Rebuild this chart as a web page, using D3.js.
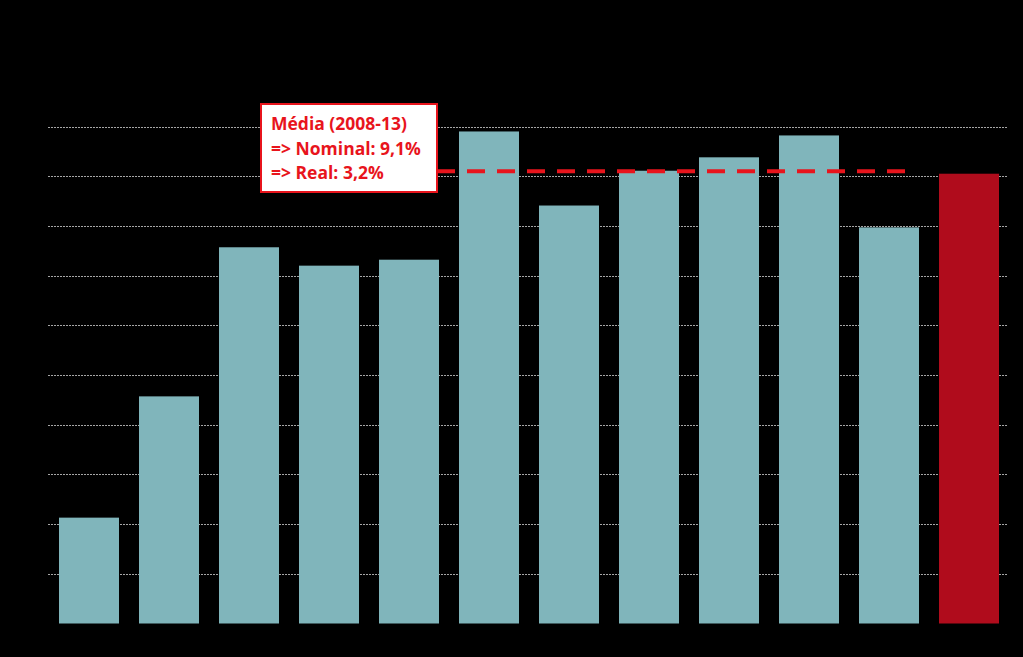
<!DOCTYPE html>
<html><head><meta charset="utf-8">
<script src="https://cdn.jsdelivr.net/npm/d3@7"></script>
<style>html,body{margin:0;padding:0;background:#000;}svg{display:block;}</style>
</head><body>
<script>
const categories = ["2003","2004","2005","2006","2007","2008","2009","2010","2011","2012","2013","2014"];
const values = [2.13, 4.57, 7.57, 7.20, 7.32, 9.90, 8.41, 9.11, 9.38, 9.82, 7.97, 9.05];
const highlight = ["2014"];
const yTicks = [0,1,2,3,4,5,6,7,8,9,10];
const avgValue = 9.1;
const avgRange = ["2008","2012"];
const noteLines = ["Média (2008-13)", "=> Nominal: 9,1%", "=> Real: 3,2%"];

const W = 1023, H = 657;
const svg = d3.select("body").append("svg").attr("width", W).attr("height", H);
svg.append("rect").attr("width", W).attr("height", H).attr("fill", "#000");

const x = d3.scaleBand().domain(categories).range([49, 1009]).paddingInner(0.25).paddingOuter(0.125);
const y = d3.scaleLinear().domain([0, 10]).range([623.5, 126.5]);

// gridlines
svg.append("g").selectAll("line").data(yTicks.slice(1)).join("line")
  .attr("x1", 48).attr("x2", 1008)
  .attr("y1", d => Math.round(y(d)) + 0.5).attr("y2", d => Math.round(y(d)) + 0.5)
  .attr("stroke", "#a6a6a6").attr("stroke-width", 1).attr("stroke-dasharray", "2,1");

// invisible (black) axis labels, as in the original
const yAxis = d3.axisLeft(y).tickValues(yTicks).tickSize(0).tickFormat(d => d + "%");
svg.append("g").attr("transform", "translate(46,0)").call(yAxis)
  .call(g => g.select(".domain").remove())
  .selectAll("text").attr("fill", "#000").attr("font-family", "Liberation Sans").attr("font-size", 12);
const xAxis = d3.axisBottom(x).tickSize(0);
svg.append("g").attr("transform", "translate(0,628)").call(xAxis)
  .call(g => g.select(".domain").remove())
  .selectAll("text").attr("fill", "#000").attr("font-family", "Liberation Sans").attr("font-size", 12);

// bars
svg.append("g").selectAll("rect").data(categories).join("rect")
  .attr("x", d => x(d)).attr("width", x.bandwidth())
  .attr("y", (d, i) => y(values[i])).attr("height", (d, i) => y(0) - y(values[i]))
  .attr("fill", d => highlight.includes(d) ? "#b00c1c" : "#80b5bb");

// average dashed line
svg.append("line")
  .attr("x1", 437).attr("x2", x(avgRange[1]) + x.bandwidth() + 66)
  .attr("y1", y(avgValue)).attr("y2", y(avgValue))
  .attr("stroke", "#e8141c").attr("stroke-width", 4).attr("stroke-dasharray", "18,12");

// note box
const bx = 261, by = 104, bw = 176, bh = 88;
svg.append("rect").attr("x", bx).attr("y", by).attr("width", bw).attr("height", bh)
  .attr("fill", "#fff").attr("stroke", "#e8141c").attr("stroke-width", 2);
svg.append("g").selectAll("text").data(noteLines).join("text")
  .attr("x", bx + 10).attr("y", (d, i) => by + 26 + i * 24.5)
  .attr("fill", "#e8141c").attr("font-family", "Open Sans").attr("font-weight", "bold").attr("font-size", 17.5)
  .text(d => d);
</script>
</body></html>
